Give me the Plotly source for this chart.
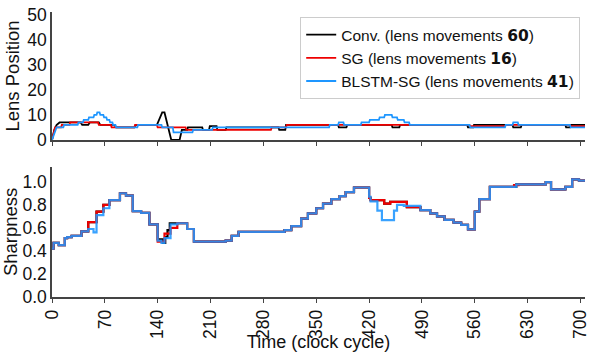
import plotly.graph_objects as go
from plotly.subplots import make_subplots

# ---- Lens position (top panel), breakpoints ----
conv_lens_t = [0, 3, 6, 10, 38, 40, 48, 50, 62, 64, 83, 85, 109, 111, 139, 146, 149, 158, 169, 172,
               179, 180, 199, 200, 208, 209, 218, 219, 230, 231, 300, 301, 309, 310, 379, 380, 390, 391,
               450, 451, 460, 461, 550, 551, 558, 559, 610, 611, 621, 622, 680, 681, 686, 687, 706]
conv_lens_v = [0, 4, 6, 7, 7, 6, 6, 7, 7, 6, 6, 5, 5, 6, 6, 11, 11, 0, 0, 4,
               4, 5, 5, 4, 4, 5.5, 5.5, 4, 4, 5, 5, 4, 4, 6, 6, 5, 5, 6,
               6, 5, 5, 6, 6, 5, 5, 6, 6, 5, 5, 6, 6, 5, 5, 6, 6]

sg_lens_t = [0, 4, 12, 13, 23, 24, 61, 62, 78, 79, 109, 110, 139, 140, 177, 178, 290, 291, 310, 311,
             553, 554, 600, 601, 686, 687, 706]
sg_lens_v = [0, 5, 5, 6, 6, 7, 7, 6, 6, 5, 5, 6, 6, 5, 5, 4, 4, 5, 5, 6,
             6, 5.5, 5.5, 6, 6, 5.5, 5.5]

bl_lens_t = [0, 3, 6, 15, 16, 34, 35, 41, 42, 48, 49, 55, 56, 59, 60, 63, 64, 68, 69, 72, 73, 76, 77,
             80, 81, 84, 85, 113, 114, 145, 146, 160, 161, 186, 187, 212, 213, 367, 368, 379, 380,
             386, 387, 409, 410, 420, 421, 433, 434, 440, 441, 450, 451, 457, 458, 466, 467, 473, 474,
             553, 554, 600, 601, 610, 611, 617, 618, 686, 687, 706]
bl_lens_v = [0, 3, 5, 5, 6, 6, 7, 7, 8, 8, 9, 9, 10, 10, 11, 11, 10, 10, 9, 9, 8, 8, 7,
             7, 6, 6, 5, 5, 6, 6, 5, 5, 3, 3, 4, 4, 5, 5, 6, 6, 7,
             7, 6, 6, 7, 7, 8, 8, 9, 9, 10, 10, 9, 9, 8, 8, 7, 7, 6,
             6, 5, 5, 6, 6, 7, 7, 6, 6, 5, 5]

# ---- Sharpness (bottom panel), step values (value holds from t onward) ----
bl_sh_t = [0, 2, 9, 17, 20, 26, 39, 48, 55, 59, 68, 76, 90, 98, 107, 118, 129, 140, 145, 149, 157, 166,
           179, 188, 230, 238, 247, 308, 317, 330, 339, 350, 359, 370, 381, 389, 400, 420, 422, 431, 437,
           453, 457, 466, 488, 501, 510, 520, 532, 542, 551, 560, 566, 580, 615, 654, 661, 680, 689, 698, 706]
bl_sh_v = [0.42, 0.47, 0.45, 0.51, 0.52, 0.53, 0.57, 0.59, 0.56, 0.71, 0.77, 0.84, 0.90, 0.88, 0.745, 0.73,
           0.63, 0.49, 0.47, 0.51, 0.63, 0.64, 0.59, 0.48, 0.49, 0.53, 0.565, 0.58, 0.615, 0.68, 0.725,
           0.77, 0.81, 0.85, 0.875, 0.91, 0.95, 0.87, 0.83, 0.75, 0.667, 0.75, 0.80, 0.79, 0.754, 0.725,
           0.70, 0.67, 0.645, 0.625, 0.586, 0.74, 0.85, 0.955, 0.977, 0.996, 0.934, 0.955, 1.02, 1.01, 1.01]

sg_sh_t = [0, 2, 9, 17, 20, 26, 39, 48, 59, 68, 76, 90, 98, 107, 118, 129, 140, 149, 157, 166,
           179, 188, 230, 238, 247, 308, 317, 330, 339, 350, 359, 370, 381, 389, 400, 420, 422, 440, 448,
           470, 488, 501, 510, 520, 532, 542, 551, 560, 566, 580, 612, 618, 654, 661, 680, 689, 698, 706]
sg_sh_v = [0.42, 0.47, 0.45, 0.51, 0.52, 0.53, 0.57, 0.65, 0.74, 0.80, 0.84, 0.90, 0.88, 0.745, 0.73,
           0.63, 0.48, 0.55, 0.60, 0.64, 0.59, 0.48, 0.49, 0.53, 0.565, 0.58, 0.615, 0.68, 0.725,
           0.77, 0.81, 0.85, 0.875, 0.91, 0.95, 0.86, 0.84, 0.81, 0.825, 0.78, 0.754, 0.725,
           0.70, 0.67, 0.645, 0.625, 0.586, 0.74, 0.85, 0.955, 0.97, 0.977, 0.996, 0.934, 0.955, 1.02, 1.01, 1.01]

conv_sh_t = [0, 2, 9, 17, 20, 26, 39, 48, 59, 68, 76, 90, 98, 107, 118, 129, 140, 147, 150, 153, 156, 166,
             179, 188, 230, 238, 247, 308, 317, 330, 339, 350, 359, 370, 381, 389, 400, 420, 422, 440, 448,
             470, 488, 501, 510, 520, 532, 542, 551, 560, 566, 580, 615, 654, 661, 680, 689, 698, 706]
conv_sh_v = [0.42, 0.47, 0.45, 0.51, 0.52, 0.53, 0.57, 0.65, 0.74, 0.80, 0.84, 0.90, 0.88, 0.745, 0.73,
             0.63, 0.50, 0.47, 0.52, 0.58, 0.64, 0.64, 0.59, 0.48, 0.49, 0.53, 0.565, 0.58, 0.615, 0.68, 0.725,
             0.77, 0.81, 0.85, 0.875, 0.91, 0.95, 0.86, 0.84, 0.81, 0.825, 0.78, 0.754, 0.725,
             0.70, 0.67, 0.645, 0.625, 0.586, 0.74, 0.85, 0.955, 0.977, 0.996, 0.934, 0.955, 1.02, 1.01, 1.01]

x_ticks = [0, 70, 140, 210, 280, 350, 420, 490, 560, 630, 700]
lens_ticks = [0, 10, 20, 30, 40, 50]
sharp_ticks = [0.0, 0.2, 0.4, 0.6, 0.8, 1.0]

names = [
    "Conv. (lens movements <b><span style='font-family:DejaVu Sans'>60</span></b>)",
    "SG (lens movements <b><span style='font-family:DejaVu Sans'>16</span></b>)",
    "BLSTM-SG (lens movements <b><span style='font-family:DejaVu Sans'>41</span></b>)",
]
colors = ["#000000", "#ee0000", "#1e96ff"]

FONT = "Liberation Sans, Arial, sans-serif"
fig = make_subplots(rows=2, cols=1, shared_xaxes=False, vertical_spacing=0.09)

lens = [(conv_lens_t, conv_lens_v), (sg_lens_t, sg_lens_v), (bl_lens_t, bl_lens_v)]
sharp = [(conv_sh_t, conv_sh_v), (sg_sh_t, sg_sh_v), (bl_sh_t, bl_sh_v)]
for i, ((tx, vy), (sx, sy)) in enumerate(zip(lens, sharp)):
    fig.add_trace(go.Scatter(x=tx, y=vy, mode="lines", name=names[i],
                             line=dict(color=colors[i], width=1.8, shape="linear"),
                             showlegend=True), row=1, col=1)
    fig.add_trace(go.Scatter(x=sx, y=sy, mode="lines", name=names[i],
                             line=dict(color=colors[i], width=2.2, shape="hv"),
                             opacity=0.88 if i == 2 else 1.0,
                             showlegend=False), row=2, col=1)

axis_common = dict(showline=True, linecolor="#444444", linewidth=1.5, showgrid=False, zeroline=False,
                   tickfont=dict(family=FONT, size=17.5, color="#111111"))

fig.update_xaxes(range=[0, 706], tickvals=x_ticks, ticks="outside", ticklen=4, tickcolor="#444444",
                 ticklabeloverflow="allow", **axis_common)
fig.update_xaxes(showticklabels=False, row=1, col=1)
fig.update_xaxes(tickangle=-90, ticktext=[str(v) for v in x_ticks],
                 title=dict(text="Time (clock cycle)", font=dict(family=FONT, size=18, color="#111111"),
                            standoff=0),
                 row=2, col=1)
fig.update_yaxes(range=[0, 51.2], tickvals=lens_ticks, ticktext=[str(v) for v in lens_ticks], ticks="",
                 title=dict(text="Lens Position", font=dict(family=FONT, size=18.5, color="#111111"),
                            standoff=3),
                 row=1, col=1, **axis_common)
fig.update_yaxes(range=[0, 1.13], tickvals=sharp_ticks, ticktext=[f"{v:.1f}" for v in sharp_ticks], ticks="",
                 title=dict(text="Sharpness", font=dict(family=FONT, size=18.5, color="#111111"),
                            standoff=3),
                 row=2, col=1, **axis_common)

fig.update_layout(
    width=590, height=352,
    margin=dict(l=52, r=0, t=12, b=55),
    paper_bgcolor="white", plot_bgcolor="white",
    font=dict(family=FONT, color="#111111"),
    yaxis=dict(domain=[0.551, 1.0]),
    yaxis2=dict(domain=[0.0, 0.457]),
    legend=dict(x=0.991, y=0.982, xanchor="right", yanchor="top",
                bgcolor="rgba(255,255,255,0.9)", bordercolor="#cccccc", borderwidth=1,
                font=dict(family=FONT, size=15.5, color="#111111"),
                tracegroupgap=0, itemwidth=30),
    showlegend=True,
)

fig.write_html("out.html")
